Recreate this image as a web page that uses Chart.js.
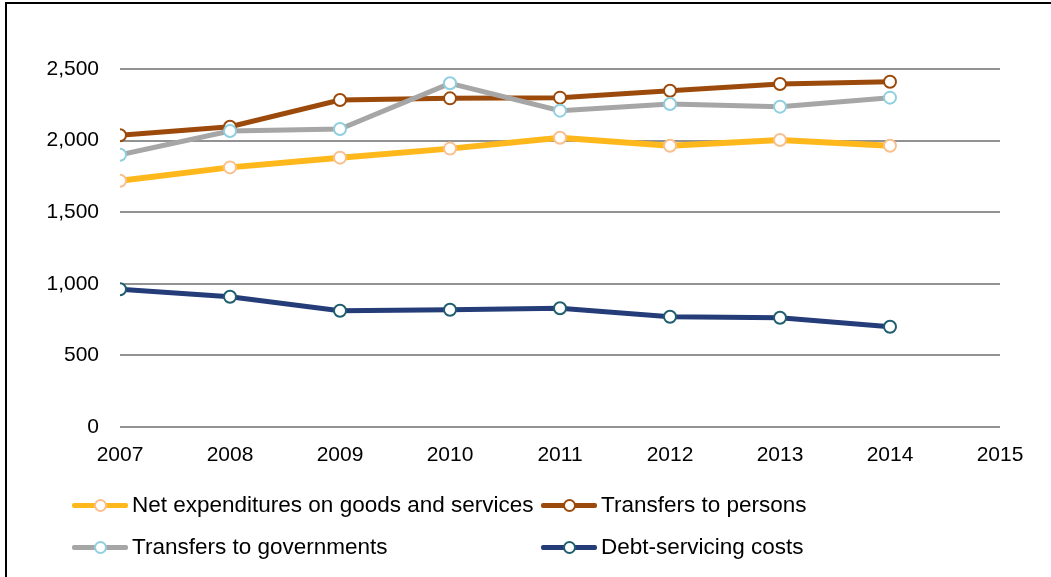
<!DOCTYPE html>
<html>
<head>
<meta charset="utf-8">
<script src="https://cdn.jsdelivr.net/npm/chart.js@4/dist/chart.umd.min.js"></script>
<style>
  html, body { margin: 0; padding: 0; background: #fff; }
  #wrap { position: relative; width: 1051px; height: 577px; overflow: hidden; }
  #frame { position: absolute; left: 5px; top: 2px; right: -10px; bottom: -10px;
           border-top: 2px solid #000; border-left: 2px solid #000; }
  #chart { position: absolute; left: 0; top: 0; }
  .legend-item { position: absolute; height: 24px; display: flex; align-items: center;
                 font-family: "Liberation Sans", Arial, sans-serif; font-size: 22.5px; color: #000;
                 white-space: nowrap; }
  .legend-line { position: relative; width: 56px; height: 5px; margin-right: 4px; border-radius: 2px; }
  .legend-dot { position: absolute; left: 22px; top: -4px; width: 9px; height: 9px;
                border-radius: 50%; background: #fff; border: 2px solid; }
</style>
</head>
<body>
<div id="wrap">
  <div id="frame"></div>
  <canvas id="chart" width="1051" height="577"></canvas>
</div>
<script>
'use strict';

const years = [2007, 2008, 2009, 2010, 2011, 2012, 2013, 2014];
const netExpenditures = [1720, 1813, 1881, 1944, 2020, 1964, 2004, 1964];
const transfersPersons = [2037, 2097, 2283, 2295, 2300, 2348, 2395, 2411];
const transfersGovernments = [1901, 2067, 2081, 2400, 2209, 2256, 2237, 2300];
const debtServicing = [962, 910, 812, 819, 829, 770, 763, 700];

const seriesNames = [
  'Net expenditures on goods and services',
  'Transfers to persons',
  'Transfers to governments',
  'Debt-servicing costs',
];
const yTicks = [0, 500, 1000, 1500, 2000, 2500];
const xTicks = [2007, 2008, 2009, 2010, 2011, 2012, 2013, 2014, 2015];

const fontFamily = '"Liberation Sans", Arial, sans-serif';

function makeSeries(label, values, lineColor, dotColor, width, order) {
  return {
    label: label,
    data: years.map((y, i) => ({ x: y, y: values[i] })),
    borderColor: lineColor,
    backgroundColor: lineColor,
    borderWidth: width,
    pointRadius: 6,
    pointBorderWidth: 2,
    pointBorderColor: dotColor,
    pointBackgroundColor: '#ffffff',
    tension: 0,
    order: order,
  };
}

const datasets = [
  makeSeries(seriesNames[0], netExpenditures, '#ffb81c', '#f9c08e', 6, 4),
  makeSeries(seriesNames[1], transfersPersons, '#9c4a0b', '#9c4a0b', 5, 3),
  makeSeries(seriesNames[2], transfersGovernments, '#a6a6a6', '#8fcfdf', 5, 2),
  makeSeries(seriesNames[3], debtServicing, '#243c78', '#1f5e6e', 5, 1),
];

const chart = new Chart(document.getElementById('chart'), {
  type: 'line',
  data: { datasets: datasets },
  options: {
    responsive: false,
    animation: false,
    layout: { padding: { top: 69, right: 51, bottom: 110, left: 0 } },
    plugins: {
      legend: { display: false },
      tooltip: { enabled: false },
    },
    scales: {
      x: {
        type: 'linear',
        min: xTicks[0],
        max: xTicks[xTicks.length - 1],
        afterBuildTicks: (scale) => {
          scale.ticks = xTicks.map((v) => ({ value: v }));
        },
        afterFit: (scale) => {
          scale.height = 40;
        },
        grid: { display: false, drawTicks: false },
        border: { display: false },
        ticks: {
          padding: 16,
          color: '#000',
          font: { family: fontFamily, size: 21 },
          callback: (v) => String(v),
        },
      },
      y: {
        min: 0,
        max: 2500,
        afterBuildTicks: (scale) => {
          scale.ticks = yTicks.map((v) => ({ value: v }));
        },
        afterFit: (scale) => {
          scale.width = 120;
        },
        grid: { color: '#929292', lineWidth: 2, drawTicks: false },
        border: { display: false },
        ticks: {
          padding: 21,
          color: '#000',
          font: { family: fontFamily, size: 21 },
          callback: (v) => v.toLocaleString('en-US'),
        },
      },
    },
  },
});

// legend laid out in two fixed columns
const legendSlots = [
  { left: 72, top: 493 },
  { left: 541, top: 493 },
  { left: 72, top: 535 },
  { left: 541, top: 535 },
];
const wrap = document.getElementById('wrap');
chart.data.datasets.forEach((ds, i) => {
  const item = document.createElement('div');
  item.className = 'legend-item';
  item.style.left = legendSlots[i].left + 'px';
  item.style.top = legendSlots[i].top + 'px';
  const line = document.createElement('span');
  line.className = 'legend-line';
  line.style.background = ds.borderColor;
  const dot = document.createElement('span');
  dot.className = 'legend-dot';
  dot.style.borderColor = ds.pointBorderColor;
  line.appendChild(dot);
  const text = document.createElement('span');
  text.textContent = ds.label;
  item.appendChild(line);
  item.appendChild(text);
  wrap.appendChild(item);
});
</script>
</body>
</html>
